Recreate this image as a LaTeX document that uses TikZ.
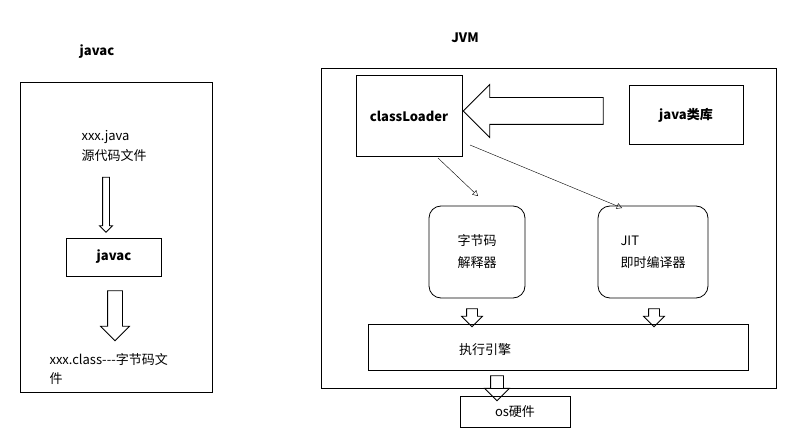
\documentclass[tikz,border=0pt]{standalone}
\usepackage{fontspec}
\setmainfont{Noto Sans CJK SC}
\usetikzlibrary{
	positioning
	, arrows
	, shapes.arrows
}

\begin{document}
\begin{tikzpicture}[x=1pt,y=-1pt,
		font=\fontsize{13}{16}\selectfont
		, block/.style={draw, thick, inner sep=0pt}
		, soft/.style={draw, thick, rounded corners=12pt, inner sep=0pt}
		, hollow/.style 2 args={single arrow, draw, thick, inner sep=0pt, minimum width=0pt,
			single arrow head extend=#2, node contents={\rule{0pt}{#1}}}
		, feed/.style={->, >=open triangle 60, thin}
	]
	\useasboundingbox (0,0) rectangle (806,433);

	% Left part: compiling with javac
	\node[font=\bfseries\fontsize{13}{16}\selectfont] (javactitle) at (97,52) {javac};
	\draw[thick] (20,82) rectangle (212,392);
	\node[anchor=west, align=left] (source) at (78,146) {xxx.java\\[4pt]源代码文件};
	\node[block, minimum width=95pt, minimum height=38pt, font=\bfseries\fontsize{13}{16}\selectfont] (javac) at (114,257) {javac};
	\node[hollow={6pt}{3pt}, rotate=-90, minimum height=55pt, name=compile, at={(106,203)}];
	\node[hollow={14pt}{7pt}, rotate=-90, minimum height=50pt, name=emit, at={(115,312)}];
	\node[anchor=west, align=left] (classfile) at (46,369) {xxx.class{-}{-}{-}字节码文\\[3pt]件};

	% Right part: the virtual machine
	\node[font=\bfseries\fontsize{13}{16}\selectfont] (jvmtitle) at (465,38) {JVM};
	\draw[thick] (321,68) rectangle (776,388);
	\node[block, minimum width=106pt, minimum height=81pt, font=\bfseries\fontsize{13}{16}\selectfont] (loader) at (409,116) {classLoader};
	\node[block, minimum width=114pt, minimum height=59pt, font=\bfseries\fontsize{13}{16}\selectfont] (library) at (686,115) {java类库};
	\node[hollow={26pt}{13pt}, rotate=180, minimum height=140pt, name=load, at={(540,111)}];
	\node[soft, minimum width=96pt, minimum height=92pt, align=left] (interp) at (477,252) {字节码\\[6pt]解释器};
	\node[soft, minimum width=110pt, minimum height=92pt, align=left] (jit) at (653,252) {JIT\\[6pt]即时编译器};
	\draw[feed] (438,158) -- (478,196);
	\draw[feed] (470,145) -- (622,208);
	\node[hollow={10pt}{5pt}, rotate=-90, minimum height=18pt, name=downa, at={(472,315)}];
	\node[hollow={10pt}{5pt}, rotate=-90, minimum height=18pt, name=downb, at={(654,315)}];
	\node[block, minimum width=380pt, minimum height=46pt] (engine) at (558,347) {};
	\node (enginetext) at (485,350) {执行引擎};
	\node[hollow={12pt}{6pt}, rotate=-90, minimum height=25pt, name=downc, at={(497,385)}];
	\node[block, minimum width=110pt, minimum height=31pt] (os) at (515,412) {os硬件};
\end{tikzpicture}
\end{document}
